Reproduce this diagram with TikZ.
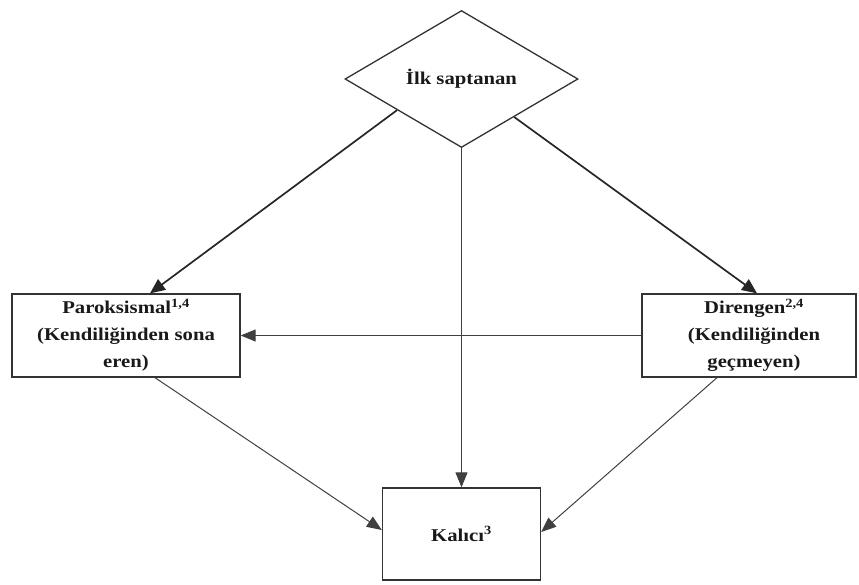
\documentclass[tikz,border=0pt]{standalone}
\usepackage{fontspec}
\setmainfont{Liberation Serif}[FakeStretch=1.15]
\usetikzlibrary{shapes.geometric,arrows.meta,calc}
\begin{document}
\begin{tikzpicture}[x=1pt,y=-1pt,
  lbl/.style={font=\fontsize{18}{27}\selectfont\bfseries, align=center, text=black!90},
  boxnode/.style={lbl, draw=black!80, line width=1.3pt, rectangle, inner sep=0pt},
  heavyarrow/.style={line width=1.7pt, draw=black!85, -{Triangle[length=15pt,width=13pt]}},
  lightarrow/.style={line width=1pt, draw=black!75, -{Triangle[length=15pt,width=12pt]}}
]
\useasboundingbox (0,0) rectangle (859,584);
\node[lbl, diamond, draw=black!80, line width=1.3pt, inner sep=0pt, aspect=1.7,
      minimum width=233pt, minimum height=137pt] (d) at (461.5,79) {İlk saptanan};
\node[boxnode, minimum width=228pt, minimum height=83pt] (p) at (126,335.5)
  {Paroksismal\textsuperscript{1,4}\\(Kendiliğinden sona\\eren)};
\node[boxnode, minimum width=214pt, minimum height=83pt] (r) at (749,335.5)
  {\hspace*{10pt}Direngen\textsuperscript{2,4}\\\hspace*{10pt}(Kendiliğinden\\\hspace*{10pt}geçmeyen)};
\node[boxnode, minimum width=158pt, minimum height=92pt] (k) at (461.5,534)
  {Kalıcı\textsuperscript{3}};
\draw[heavyarrow] ($(d.west)!0.45!(d.south)$) -- ($(p.north)+(24,0)$);
\draw[heavyarrow] ($(d.south)!0.45!(d.east)$) -- ($(r.north)+(8,0)$);
\draw[lightarrow] (d.south) -- (k.north);
\draw[lightarrow] (r.west) -- (p.east);
\draw[lightarrow] ($(p.south)+(29,0)$) -- ($(k.west)+(0,-4)$);
\draw[lightarrow] ($(r.south)+(-32,0)$) -- ($(k.east)+(0,-2)$);
\end{tikzpicture}
\end{document}
